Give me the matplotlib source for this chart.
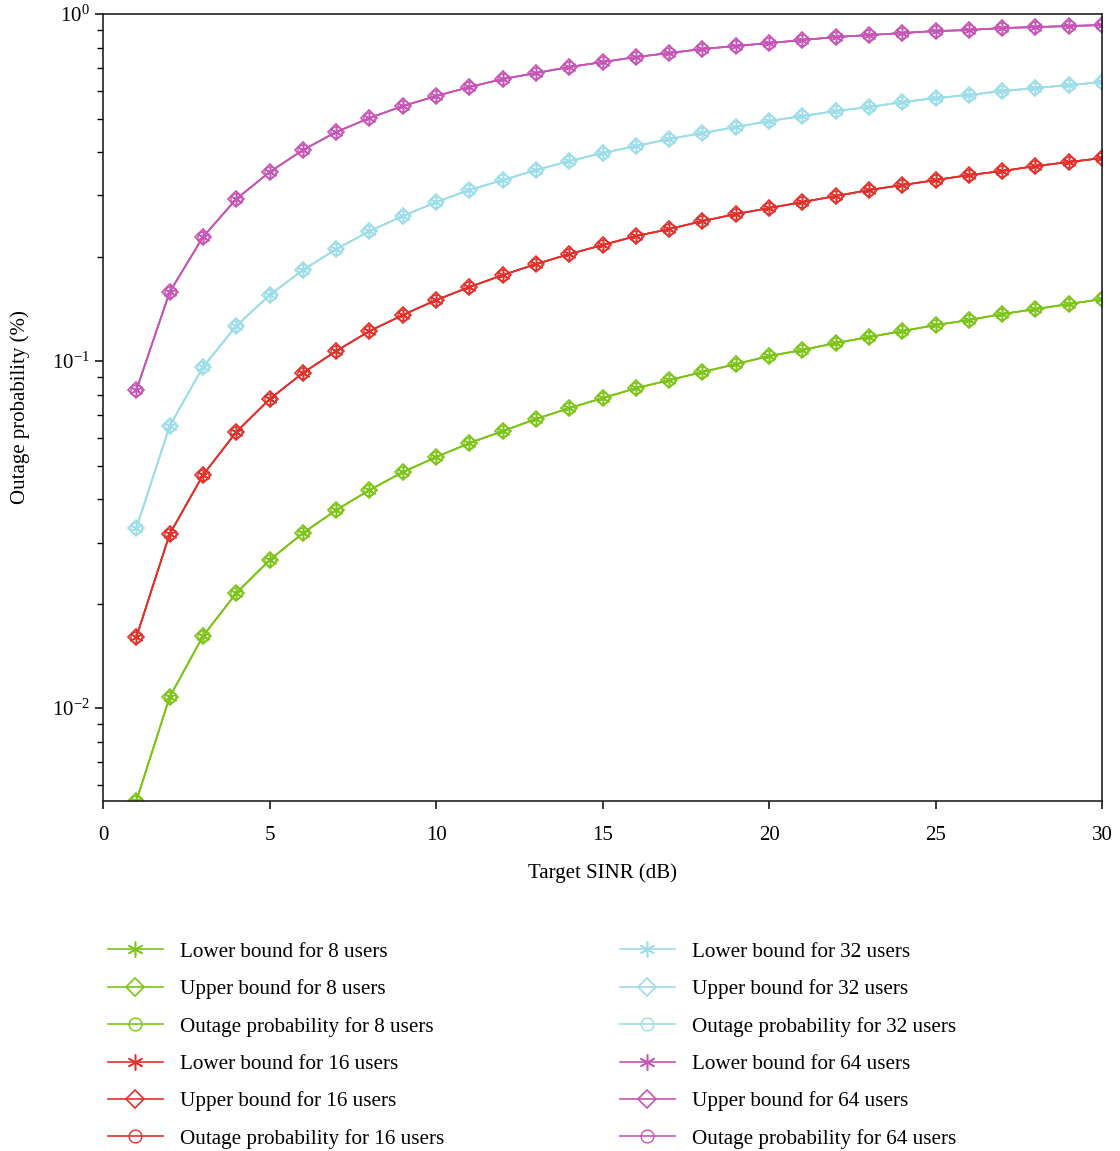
import numpy as np
import matplotlib
matplotlib.use('Agg')
import matplotlib.pyplot as plt

plt.rcParams['font.family'] = ['Liberation Serif', 'DejaVu Serif']
plt.rcParams['mathtext.fontset'] = 'stix'

# Target SINR (dB)
sinr = list(range(1, 31))

# Outage probability curves (bounds lie on top of them)
outage_8 = [0.00540, 0.01076, 0.01612, 0.02145, 0.02670, 0.03193, 0.03721, 0.04249, 0.04787, 0.05288,
            0.05802, 0.06285, 0.06808, 0.07321, 0.07820, 0.08353, 0.0881, 0.0930, 0.0980, 0.1034,
            0.1076, 0.1127, 0.1173, 0.1220, 0.1270, 0.1313, 0.1366, 0.1412, 0.1460, 0.1509]
outage_16 = [0.01602, 0.03172, 0.04693, 0.06243, 0.07768, 0.0924, 0.1069, 0.1220, 0.1357, 0.1499,
             0.1634, 0.1769, 0.1903, 0.2034, 0.2159, 0.2292, 0.2401, 0.2532, 0.2652, 0.2760,
             0.2872, 0.2989, 0.3111, 0.3215, 0.3323, 0.3436, 0.3528, 0.3647, 0.3745, 0.3846]
outage_32 = [0.0330, 0.0650, 0.0961, 0.1262, 0.1549, 0.1829, 0.2102, 0.2369, 0.2617, 0.2872,
             0.3111, 0.3323, 0.3551, 0.3770, 0.3976, 0.4165, 0.4363, 0.4541, 0.4725, 0.4917,
             0.5083, 0.5254, 0.5395, 0.5577, 0.5727, 0.5843, 0.5999, 0.6119, 0.6243, 0.6368]
outage_64 = [0.0825, 0.1580, 0.2277, 0.2930, 0.3504, 0.4056, 0.4571, 0.5016, 0.5431, 0.5803,
             0.6161, 0.6496, 0.6761, 0.7036, 0.7272, 0.7517, 0.7721, 0.7929, 0.8089, 0.8249,
             0.8415, 0.8586, 0.8700, 0.8815, 0.8934, 0.8993, 0.9114, 0.9173, 0.9235, 0.9297]

lower_8, upper_8 = outage_8, outage_8
lower_16, upper_16 = outage_16, outage_16
lower_32, upper_32 = outage_32, outage_32
lower_64, upper_64 = outage_64, outage_64

users = [8, 16, 32, 64]
colors = ['#7CC516', '#E2302B', '#9DDDE8', '#C655B5']
series = [(lower_8, upper_8, outage_8), (lower_16, upper_16, outage_16),
          (lower_32, upper_32, outage_32), (lower_64, upper_64, outage_64)]

fig = plt.figure(figsize=(11.2, 11.51), dpi=100)
ax = fig.add_axes([0.092, 0.3041, 0.892, 0.6837])

asterisk = (6, 2, 0)
handles = []
for n, c, (lo, up, out) in zip(users, colors, series):
    h1, = ax.plot(sinr, lo, color=c, lw=1.2, marker=asterisk, ms=10, mew=1.1,
                  label=f'Lower bound for {n} users')
    h2, = ax.plot(sinr, up, color=c, lw=1.2, marker='D', ms=8, mfc='none', mew=1.2,
                  label=f'Upper bound for {n} users')
    h3, = ax.plot(sinr, out, color=c, lw=1.2, marker='o', ms=8, mfc='none', mew=1.0,
                  label=f'Outage probability for {n} users')
    handles += [h1, h2, h3]

ax.set_yscale('log')
ax.set_xlim(0, 30)
ax.set_ylim(0.0054, 1)
ax.set_xticks([0, 5, 10, 15, 20, 25, 30])
ax.tick_params(axis='both', which='major', direction='out', length=6, width=1.1,
               labelsize=15, top=False, right=False)
ax.tick_params(axis='x', pad=12)
ax.tick_params(axis='y', which='minor', direction='out', length=4, width=1.0, right=False)
for s in ax.spines.values():
    s.set_linewidth(1.2)
    s.set_color('#222222')

ax.set_xlabel('Target SINR (dB)', fontsize=15, labelpad=13)
ax.set_ylabel('Outage probability (%)', fontsize=15, labelpad=16)

leg_kw = dict(loc='upper left', frameon=False, fontsize=15.2, handlelength=2.6,
              handletextpad=0.8, labelspacing=0.83, borderpad=0, borderaxespad=0,
              markerscale=1.15)
fig.legend(handles=handles[:6], bbox_to_anchor=(0.0964, 0.1815), **leg_kw)
fig.legend(handles=handles[6:], bbox_to_anchor=(0.5536, 0.1815), **leg_kw)

fig.savefig('out.png', dpi=100)
